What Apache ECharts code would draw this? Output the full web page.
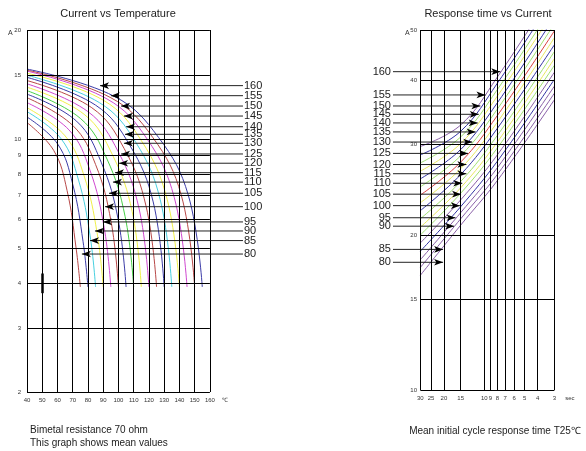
<!DOCTYPE html>
<html><head><meta charset="utf-8">
<script src="https://cdn.jsdelivr.net/npm/echarts@6/dist/echarts.min.js"></script>
<style>html,body{margin:0;padding:0;background:#fff}#c{width:586px;height:451px}</style>
</head><body><div id="c"></div>
<script>
// ---- Left chart: Current vs Temperature ----
const leftXTicks=[40,50,60,70,80,90,100,110,120,130,140,150,160];
const leftYTicks=[2,3,4,5,6,7,8,9,10,15,20];
const leftCurveNames=[75,80,85,90,95,100,105,110,115,120,125,130,135,140,145,150,155];
const leftCurves=[
 [[40,11.1],[57.5,9.3],[66.3,7.2],[72.2,5.0],[75,3.9]],
 [[40,11.5],[60,9.7],[70,7.5],[76.8,5.2],[80,3.9]],
 [[40,11.9],[62.5,10.0],[73.8,7.7],[81.4,5.4],[85,3.9]],
 [[40,12.2],[65,10.2],[77.5,7.9],[86,5.5],[90,3.9]],
 [[40,12.6],[67.5,10.6],[81.3,8.2],[90.6,5.7],[95,3.9]],
 [[40,13.0],[70,10.9],[85,8.5],[95.2,5.9],[100,3.9]],
 [[40,13.3],[72.5,11.2],[88.8,8.6],[99.8,6.0],[105,3.9]],
 [[40,13.6],[75,11.4],[92.5,8.8],[104.4,6.1],[110,3.9]],
 [[40,13.9],[77.5,11.7],[96.3,9.0],[109,6.3],[115,3.9]],
 [[40,14.2],[80,11.9],[100,9.2],[113.6,6.4],[120,3.9]],
 [[40,14.5],[82.5,12.2],[103.8,9.4],[118.2,6.5],[125,3.9]],
 [[40,14.8],[85,12.4],[107.5,9.6],[122.8,6.7],[130,3.9]],
 [[40,15.0],[87.5,12.6],[111.3,9.8],[127.4,6.8],[135,3.9]],
 [[40,15.2],[90,12.8],[115,9.9],[132,6.8],[140,3.9]],
 [[40,15.4],[92.5,12.9],[118.8,10.0],[136.6,6.9],[145,3.9]],
 [[40,15.5],[95,13.0],[122.5,10.1],[141.2,7.0],[150,3.9]],
 [[40,15.6],[97.5,13.1],[126.3,10.1],[145.8,7.0],[155,3.9]]
];
const leftColors=['#b84848','#3c3ca8','#48d0e0','#f0f048','#d048d0','#b84848','#3c3ca8','#48d048','#f0f048','#d048d0','#b84848','#3c3ca8','#48d0e0','#f0f048','#d048d0','#b84848','#3c3ca8'];
const leftLabels=[160,155,150,145,140,135,130,125,120,115,110,105,100,95,90,85,80];
const leftLabelA=[14.04,13.17,12.33,11.57,10.81,10.30,9.73,9.09,8.57,8.07,7.60,7.08,6.50,5.90,5.57,5.24,4.81];
const leftArrowT=[87.9,95,101.7,103.6,105,104.3,103.6,101.7,100.4,97.7,96.4,93.8,91.2,89.9,84.6,81.3,76];
const leftLabelEndT=181.7;

// ---- Right chart: Response time vs Current ----
const rightXTicks=[30,25,20,15,10,9,8,7,6,5,4,3];
const rightYTicks=[10,15,20,30,40,50];
const rightT=[30,15,8,3];
const rightCurves=[
 [16.7,20.9,25.5,36.6],[17.3,21.5,26.2,37.7],[17.9,22.1,27.0,38.9],[18.6,22.7,27.8,40.1],
 [19.3,23.4,28.6,41.4],[20.0,24.1,29.5,42.7],[20.7,24.7,30.3,44.0],[21.5,25.4,31.2,45.4],
 [22.3,26.2,32.2,46.8],[23.1,26.9,33.1,48.3],[23.9,27.7,34.1,49.8],[24.8,28.5,35.1,51.4],
 [25.7,29.3,36.1,53.0],[26.6,30.1,37.2,54.6],[27.6,31.0,38.3,56.3],[28.6,31.8,39.4,58.1],
 [29.7,32.7,40.5,60.0]
];
const rightColors=['#8a60a8','#8a60a8','#8a60a8','#3434a4','#8a60a8','#a0e070','#e8e860','#a0e070','#3434a4','#e8e860','#d84040','#a0e070','#3434a4','#e8e860','#a0e070','#3434a4','#8a60a8'];
const rightLabels=[160,155,150,145,140,135,130,125,120,115,110,105,100,95,90,85,80];
const rightLabelA=[41.5,37.4,35.6,34.3,33.0,31.7,30.3,28.8,27.4,26.3,25.2,24.0,22.8,21.6,20.8,18.75,17.7];
const rightArrowT=[7.6,9.8,10.7,11.0,11.2,11.6,12.3,13.2,13.6,13.6,14.6,14.9,15.2,16.4,16.8,20.3,20.3];
const rightLabelStartT=48;

const series=[];
const gridStyle={color:'#000',width:1,type:'solid'};
function gridLines(xi,xs,ys,x0,x1,y0,y1){
  const d=[];
  xs.forEach(x=>d.push([{coord:[x,y0]},{coord:[x,y1]}]));
  ys.forEach(y=>d.push([{coord:[x0,y]},{coord:[x1,y]}]));
  return {type:'line',xAxisIndex:xi,yAxisIndex:xi,data:[],silent:true,
    markLine:{silent:true,symbol:'none',label:{show:false},lineStyle:gridStyle,animation:false,data:d}};
}
series.push(gridLines(0,leftXTicks,leftYTicks,40,160,2,20));
series.push(gridLines(1,rightXTicks,rightYTicks,30,3,10,50));
series.push({type:'line',xAxisIndex:0,yAxisIndex:0,data:[],markLine:{silent:true,symbol:'none',label:{show:false},
  lineStyle:{color:'#000',width:2.5,type:'solid'},data:[[{coord:[50,3.75]},{coord:[50,4.25]}]]}});

leftCurves.forEach((c,i)=>series.push({type:'line',xAxisIndex:0,yAxisIndex:0,name:'L'+leftCurveNames[i],data:c,
  smooth:0.4,showSymbol:false,lineStyle:{color:leftColors[i],width:1},animation:false}));
leftLabels.forEach((l,i)=>series.push({type:'line',xAxisIndex:0,yAxisIndex:0,animation:false,
  data:[[leftArrowT[i],leftLabelA[i]],[leftLabelEndT,leftLabelA[i]]],
  symbol:'arrow',symbolRotate:90,symbolSize:[5,9],showSymbol:false,
  markPoint:{symbol:'arrow',symbolRotate:90,symbolSize:[5,9],itemStyle:{color:'#000'},label:{show:false},silent:true,
    data:[{coord:[leftArrowT[i],leftLabelA[i]]}]},
  endLabel:{show:true,formatter:String(l),fontSize:11,color:'#222',fontFamily:'Liberation Sans',distance:1},
  lineStyle:{color:'#222',width:1}}));

rightCurves.forEach((c,i)=>series.push({type:'line',xAxisIndex:1,yAxisIndex:1,data:c.map((a,j)=>[rightT[j],a]),
  smooth:0.4,showSymbol:false,lineStyle:{color:rightColors[i],width:1},animation:false}));
rightLabels.forEach((l,i)=>series.push({type:'line',xAxisIndex:1,yAxisIndex:1,animation:false,
  data:[[rightArrowT[i],rightLabelA[i]],[rightLabelStartT,rightLabelA[i]]],
  showSymbol:false,
  markPoint:{symbol:'arrow',symbolRotate:-90,symbolSize:[5,9],itemStyle:{color:'#000'},label:{show:false},silent:true,
    data:[{coord:[rightArrowT[i],rightLabelA[i]]}]},
  endLabel:{show:true,formatter:String(l),fontSize:11,color:'#222',fontFamily:'Liberation Sans',distance:2},
  lineStyle:{color:'#222',width:1}}));

const small={fontSize:6,color:'#333',fontFamily:'Liberation Sans'};
const chart=echarts.init(document.getElementById('c'));
chart.setOption({
  backgroundColor:'#fff',animation:false,
  title:[
    {text:'Current vs Temperature',left:113,top:3,textAlign:'center',textStyle:{fontSize:11,fontWeight:'normal',color:'#222',fontFamily:'Liberation Sans'}},
    {text:'Response time vs Current',left:483,top:3,textAlign:'center',textStyle:{fontSize:11,fontWeight:'normal',color:'#222',fontFamily:'Liberation Sans'}},
    {text:'A',left:3,top:25,textStyle:{fontSize:7,fontWeight:'normal',color:'#333'}},
    {text:'A',left:400,top:25,textStyle:{fontSize:7,fontWeight:'normal',color:'#333'}},
    {text:'Bimetal resistance 70 ohm\nThis graph shows mean values',left:25,top:419,textStyle:{fontSize:10,fontWeight:'normal',color:'#222',lineHeight:13,fontFamily:'Liberation Sans'}},
    {text:'Mean initial cycle response time T25℃',left:490,top:421,textAlign:'center',textStyle:{fontSize:10,fontWeight:'normal',color:'#222',fontFamily:'Liberation Sans'}}
  ],
  grid:[{left:27,top:30,width:221,height:362},{left:380,top:30,width:198,height:360}],
  xAxis:[
    {type:'value',gridIndex:0,min:40,max:185,axisLine:{show:false},axisTick:{show:false},splitLine:{show:false},
      axisLabel:{...small,customValues:leftXTicks.concat([170]),formatter:v=>v==170?'℃':String(v),margin:5}},
    {type:'log',gridIndex:1,inverse:true,min:2,max:60,axisLine:{show:false},axisTick:{show:false},splitLine:{show:false},minorSplitLine:{show:false},
      axisLabel:{...small,customValues:rightXTicks.concat([2.3]),formatter:v=>Math.abs(v-2.3)<0.01?'sec':String(Math.round(v)),margin:5}}
  ],
  yAxis:[
    {type:'log',gridIndex:0,min:2,max:20,axisLine:{show:false},axisTick:{show:false},splitLine:{show:false},
      axisLabel:{...small,customValues:leftYTicks,formatter:v=>String(Math.round(v)),margin:6}},
    {type:'log',gridIndex:1,min:10,max:50,offset:-40,axisLine:{show:false},axisTick:{show:false},splitLine:{show:false},
      axisLabel:{...small,customValues:rightYTicks,formatter:v=>String(Math.round(v)),margin:3}}
  ],
  series
});
</script></body></html>
